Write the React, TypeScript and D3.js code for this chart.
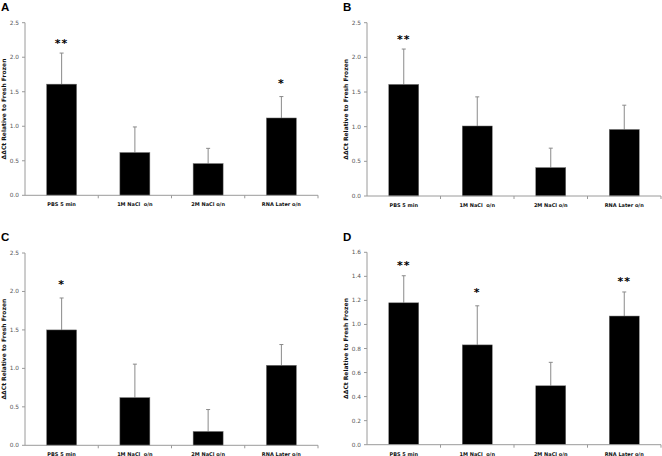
import React from "react";
import * as d3 from "d3";

const categories = ["PBS 5 min", "1M NaCl  o/n", "2M NaCl o/n", "RNA Later o/n"];

const meansA = [1.61, 0.62, 0.46, 1.12];
const errsA = [0.45, 0.37, 0.22, 0.31];
const sigA = ["**", "", "", "*"];

const meansB = [1.61, 1.01, 0.41, 0.96];
const errsB = [0.51, 0.42, 0.28, 0.35];
const sigB = ["**", "", "", ""];

const meansC = [1.5, 0.62, 0.18, 1.04];
const errsC = [0.415, 0.435, 0.285, 0.27];
const sigC = ["*", "", "", ""];

const meansD = [1.18, 0.83, 0.49, 1.07];
const errsD = [0.225, 0.325, 0.195, 0.2];
const sigD = ["**", "*", "", "**"];

const ticksABC = [0, 0.5, 1.0, 1.5, 2.0, 2.5];
const ticksD = [0, 0.2, 0.4, 0.6, 0.8, 1.0, 1.2, 1.4, 1.6];

const yTitle = "ΔΔCt Relative to Fresh Frozen";

type PanelProps = {
  letter: string;
  letterX: number;
  letterY: number;
  x0: number;
  x1: number;
  yTop: number;
  yBot: number;
  yMax: number;
  ticks: number[];
  decimals: number;
  means: number[];
  errs: number[];
  sig: string[];
};

function Panel(p: PanelProps) {
  const x = d3.scaleBand<string>().domain(categories).range([p.x0, p.x1]).paddingInner(0).paddingOuter(0);
  const y = d3.scaleLinear().domain([0, p.yMax]).range([p.yBot, p.yTop]);
  const bw = 30;
  const fmt = d3.format(`.${p.decimals}f`);
  const axisColor = "#9a9a9a";
  return (
    <g>
      <text x={p.letterX} y={p.letterY} fontFamily="Liberation Sans, Arial, sans-serif" fontWeight="bold" fontSize={11.5} fill="#000">
        {p.letter}
      </text>
      {categories.map((c, i) => {
        const cx = (x(c) as number) + x.bandwidth() / 2;
        const top = y(p.means[i]);
        const eTop = y(p.means[i] + p.errs[i]);
        return (
          <g key={c}>
            <line x1={cx} x2={cx} y1={top} y2={eTop} stroke="#8a8a8a" strokeWidth={1} />
            <line x1={cx - 2} x2={cx + 2} y1={eTop} y2={eTop} stroke="#8a8a8a" strokeWidth={1} />
            <rect x={cx - bw / 2} y={top} width={bw} height={p.yBot - top} fill="#000" stroke="#777" strokeWidth={0.5} />
            {p.sig[i] && (
              <text
                x={cx}
                y={eTop - (p.sig[i].length === 1 ? 13 : 10)}
                textAnchor="middle"
                dominantBaseline="central"
                fontFamily="DejaVu Sans, sans-serif"
                fontWeight="bold"
                fontSize={11}
                letterSpacing={1}
                fill="#000"
              >
                {p.sig[i]}
              </text>
            )}
            <text
              x={cx}
              y={p.yBot + 11}
              textAnchor="middle"
              fontFamily="DejaVu Sans, sans-serif"
              fontWeight="bold"
              fontSize={5}
              fill="#111"
              style={{ whiteSpace: "pre" }}
            >
              {c}
            </text>
          </g>
        );
      })}
      <line x1={p.x0} x2={p.x0} y1={p.yTop} y2={p.yBot} stroke={axisColor} strokeWidth={1} />
      <line x1={p.x0} x2={p.x1} y1={p.yBot} y2={p.yBot} stroke={axisColor} strokeWidth={1} />
      {categories.map((c, i) => (
        <line key={"xt" + i} x1={(x(c) as number) + x.bandwidth()} x2={(x(c) as number) + x.bandwidth()} y1={p.yBot} y2={p.yBot + 3} stroke={axisColor} strokeWidth={1} />
      ))}
      {p.ticks.map((t) => (
        <g key={"yt" + t}>
          <line x1={p.x0 - 3} x2={p.x0} y1={y(t)} y2={y(t)} stroke={axisColor} strokeWidth={1} />
          <text x={p.x0 - 6} y={y(t)} textAnchor="end" dominantBaseline="central" fontFamily="DejaVu Sans, sans-serif" fontSize={5.8} fill="#555">
            {fmt(t)}
          </text>
        </g>
      ))}
      <text
        transform={`translate(${p.x0 - 21.5},${(p.yTop + p.yBot) / 2}) rotate(-90)`}
        textAnchor="middle"
        dominantBaseline="central"
        fontFamily="DejaVu Sans, sans-serif"
        fontWeight="bold"
        fontSize={6}
        fill="#111"
      >
        {yTitle}
      </text>
    </g>
  );
}

export default function App() {
  return (
    <svg width={662} height={456} style={{ position: "absolute", left: 0, top: 0, background: "#fff" }}>
      <rect width={662} height={456} fill="#fff" />
      <Panel letter="A" letterX={1} letterY={10.5} x0={25} x1={318} yTop={22.7} yBot={195.3} yMax={2.5} ticks={ticksABC} decimals={1} means={meansA} errs={errsA} sig={sigA} />
      <Panel letter="B" letterX={343} letterY={10.5} x0={367} x1={661} yTop={22.7} yBot={196} yMax={2.5} ticks={ticksABC} decimals={1} means={meansB} errs={errsB} sig={sigB} />
      <Panel letter="C" letterX={1} letterY={241} x0={25} x1={318} yTop={253} yBot={445.3} yMax={2.5} ticks={ticksABC} decimals={1} means={meansC} errs={errsC} sig={sigC} />
      <Panel letter="D" letterX={343} letterY={241} x0={367} x1={661} yTop={252.3} yBot={444.7} yMax={1.6} ticks={ticksD} decimals={1} means={meansD} errs={errsD} sig={sigD} />
    </svg>
  );
}
